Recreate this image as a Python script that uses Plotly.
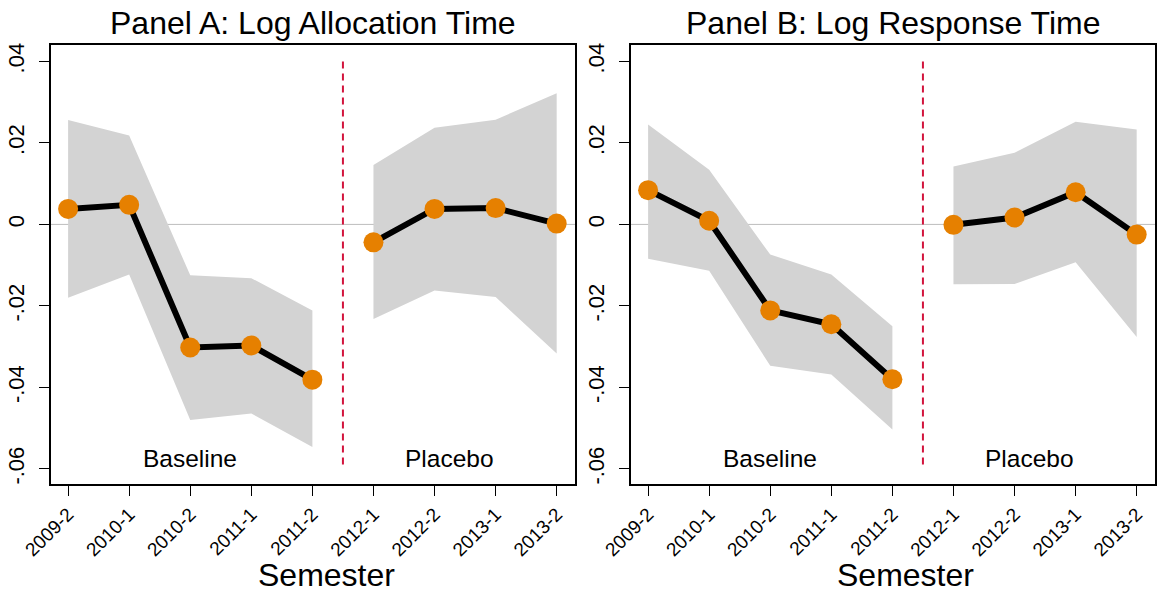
import plotly.graph_objects as go

semesters = ["2009-2", "2010-1", "2010-2", "2011-1", "2011-2",
             "2012-1", "2012-2", "2013-1", "2013-2"]
base_idx = [0, 1, 2, 3, 4]
plac_idx = [5, 6, 7, 8]

# Panel A: Log Allocation Time
a_base = [0.0038, 0.0048, -0.0302, -0.0297, -0.0381]
a_base_hi = [0.0256, 0.0218, -0.0125, -0.0132, -0.0211]
a_base_lo = [-0.0180, -0.0123, -0.0480, -0.0464, -0.0546]
a_plac = [-0.0044, 0.0038, 0.0040, 0.0002]
a_plac_hi = [0.0146, 0.0237, 0.0257, 0.0322]
a_plac_lo = [-0.0232, -0.0162, -0.0178, -0.0317]

# Panel B: Log Response Time
b_base = [0.0084, 0.0009, -0.0211, -0.0245, -0.0380]
b_base_hi = [0.0245, 0.0134, -0.0074, -0.0123, -0.0250]
b_base_lo = [-0.0084, -0.0114, -0.0347, -0.0368, -0.0503]
b_plac = [-0.0001, 0.0017, 0.0079, -0.0025]
b_plac_hi = [0.0142, 0.0176, 0.0252, 0.0233]
b_plac_lo = [-0.0147, -0.0146, -0.0093, -0.0276]

ytick_vals = [-0.06, -0.04, -0.02, 0, 0.02, 0.04]
ytick_text = ["-.06", "-.04", "-.02", "0", ".02", ".04"]
divider = 4.5
titles = ["Panel A: Log Allocation Time", "Panel B: Log Response Time"]

FONT = "Liberation Sans, Arial, sans-serif"
ORANGE = "#E68000"
BAND = "#D3D3D3"

fig = go.Figure()

panels = [
    (a_base, a_base_lo, a_base_hi, a_plac, a_plac_lo, a_plac_hi),
    (b_base, b_base_lo, b_base_hi, b_plac, b_plac_lo, b_plac_hi),
]

for p, (bb, bl, bh, pp, pl, ph) in enumerate(panels):
    xa = "x" if p == 0 else "x2"
    ya = "y" if p == 0 else "y2"
    for idx, lo, hi in [(base_idx, bl, bh), (plac_idx, pl, ph)]:
        fig.add_trace(go.Scatter(x=idx, y=lo, mode="lines", line=dict(width=0, color=BAND),
                                 xaxis=xa, yaxis=ya, showlegend=False, hoverinfo="skip"))
        fig.add_trace(go.Scatter(x=idx, y=hi, mode="lines", line=dict(width=0, color=BAND),
                                 fill="tonexty", fillcolor=BAND,
                                 xaxis=xa, yaxis=ya, showlegend=False, hoverinfo="skip"))
    for idx, mid in [(base_idx, bb), (plac_idx, pp)]:
        fig.add_trace(go.Scatter(x=idx, y=mid, mode="lines+markers",
                                 line=dict(color="black", width=6),
                                 marker=dict(color=ORANGE, size=20),
                                 xaxis=xa, yaxis=ya, showlegend=False))

x_domains = [[51 / 1159, 575 / 1159], [631 / 1159, 1155 / 1159]]
y_domain = [(595 - 484) / 595, (595 - 44.7) / 595]

axis_common = dict(showline=True, linecolor="black", linewidth=1.5, mirror=True,
                   ticks="outside", ticklen=10, tickwidth=1.3, tickcolor="black",
                   showgrid=False, zeroline=False, automargin=False)

for p in range(2):
    sx = "" if p == 0 else "2"
    fig.update_layout(**{
        "xaxis" + sx: dict(domain=x_domains[p], range=[-0.28, 8.30],
                           tickmode="array", tickvals=list(range(9)), ticktext=semesters,
                           tickangle=-45, tickfont=dict(size=19, color="black", family=FONT),
                           anchor="y" + sx, **axis_common),
        "yaxis" + sx: dict(domain=y_domain, range=[-0.0637, 0.0441],
                           tickmode="array", tickvals=ytick_vals, ticktext=ytick_text,
                           tickangle=-90, tickfont=dict(size=22, color="black", family=FONT),
                           ticklabelstandoff=6,
                           anchor="x" + sx, **axis_common),
    })
    xr = "x" if p == 0 else "x2"
    yr = "y" if p == 0 else "y2"
    # zero line
    fig.add_shape(type="line", xref=xr + " domain", yref=yr, x0=0, x1=1, y0=0, y1=0,
                  line=dict(color="#BEBEBE", width=1), layer="below")
    # divider
    fig.add_shape(type="line", xref=xr, yref=yr, x0=divider, x1=divider,
                  y0=ytick_vals[-1], y1=ytick_vals[0],
                  line=dict(color="#D2143C", width=2, dash="7px,5px"), layer="above")
    fig.add_annotation(x=2, y=-0.0574, xref=xr, yref=yr, text="Baseline", showarrow=False,
                       xanchor="center", yanchor="middle",
                       font=dict(size=24.5, color="black", family=FONT))
    fig.add_annotation(x=6.25, y=-0.0574, xref=xr, yref=yr, text="Placebo", showarrow=False,
                       xanchor="center", yanchor="middle",
                       font=dict(size=24.5, color="black", family=FONT))
    cx = (x_domains[p][0] + x_domains[p][1]) / 2
    fig.add_annotation(x=cx, y=1 - 23 / 595, xref="paper", yref="paper", text=titles[p],
                       showarrow=False, xanchor="center", yanchor="middle",
                       font=dict(size=32, color="black", family=FONT))
    fig.add_annotation(x=cx + 13 / 1159, y=1 - 575 / 595, xref="paper", yref="paper",
                       text="Semester", showarrow=False, xanchor="center", yanchor="middle",
                       font=dict(size=32, color="black", family=FONT))

fig.update_layout(width=1159, height=595, margin=dict(l=0, r=0, t=0, b=0),
                  paper_bgcolor="white", plot_bgcolor="white", showlegend=False,
                  font=dict(family=FONT, color="black"))

fig.write_html("out.html")
